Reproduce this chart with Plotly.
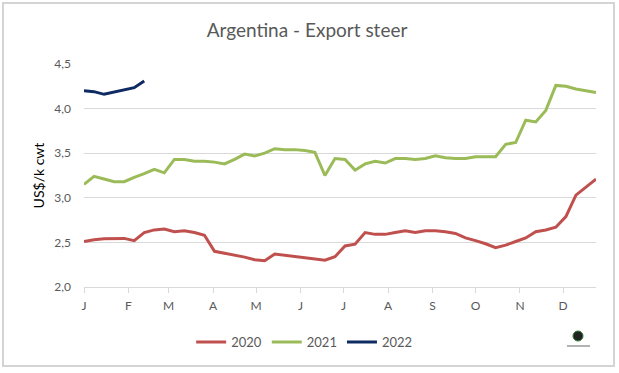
import pandas as pd
import plotly.graph_objects as go

# ---- data (weekly prices, US$/k cwt) ----
WEEKS = pd.date_range("2021-01-01", periods=52, freq="7D")

Y2020 = [2.51, 2.53, 2.54, 2.545, 2.545, 2.52, 2.61, 2.64, 2.65, 2.62, 2.63, 2.61, 2.58,
         2.40, 2.38, 2.36, 2.335, 2.305, 2.295, 2.37, 2.355, 2.34, 2.33, 2.31, 2.30, 2.34,
         2.46, 2.48, 2.61, 2.59, 2.59, 2.61, 2.63, 2.61, 2.63, 2.63, 2.62, 2.60, 2.55,
         2.52, 2.485, 2.44, 2.47, 2.51, 2.55, 2.62, 2.64, 2.67, 2.79, 3.03, 3.12, 3.21]

Y2021 = [3.15, 3.24, 3.21, 3.18, 3.18, 3.23, 3.27, 3.32, 3.28, 3.43, 3.43, 3.41, 3.41,
         3.40, 3.38, 3.43, 3.49, 3.47, 3.50, 3.55, 3.54, 3.54, 3.53, 3.51, 3.25, 3.44,
         3.43, 3.31, 3.38, 3.41, 3.39, 3.44, 3.44, 3.43, 3.44, 3.47, 3.45, 3.44, 3.44,
         3.46, 3.46, 3.46, 3.60, 3.62, 3.87, 3.85, 3.98, 4.26, 4.25, 4.22, 4.20, 4.18]

Y2022 = [4.20, 4.19, 4.16, 4.185, 4.215, 4.235, 4.31]

MONTH_STARTS = pd.date_range("2021-01-01", periods=12, freq="MS")
MONTH_LABELS = ["J", "F", "M", "A", "M", "J", "J", "A", "S", "O", "N", "D"]
Y_TICKS = [2.0, 2.5, 3.0, 3.5, 4.0, 4.5]

FONT = "Lato"
GREY_TXT = "#595959"

fig = go.Figure()
fig.add_trace(go.Scatter(x=WEEKS, y=Y2020, mode="lines", name="2020",
                         line=dict(color="#c0504d", width=3)))
fig.add_trace(go.Scatter(x=WEEKS, y=Y2021, mode="lines", name="2021",
                         line=dict(color="#9bbb59", width=3)))
fig.add_trace(go.Scatter(x=WEEKS[:len(Y2022)], y=Y2022, mode="lines", name="2022",
                         line=dict(color="#0e2a62", width=3)))

fig.update_layout(
    width=619, height=373,
    margin=dict(l=84, r=23, t=64, b=86),
    paper_bgcolor="white", plot_bgcolor="white",
    separators=",.",
    font=dict(family=FONT, color=GREY_TXT, size=12),
    title=dict(text="Argentina - Export steer", x=0.496, xanchor="center",
               y=1 - 30 / 373, yanchor="middle",
               font=dict(family=FONT, size=19, color=GREY_TXT)),
    showlegend=True,
    legend=dict(orientation="h", x=0.43, xanchor="center", y=-0.247, yanchor="middle",
                font=dict(family=FONT, size=13, color=GREY_TXT),
                bgcolor="rgba(0,0,0,0)"),
    xaxis=dict(type="date", range=[WEEKS[0], WEEKS[-1]],
               tickvals=MONTH_STARTS, ticktext=MONTH_LABELS,
               showgrid=False, zeroline=False,
               showline=True, linecolor="#d9d9d9", linewidth=1,
               ticks="outside", ticklen=5, tickcolor="#d9d9d9",
               ticklabelstandoff=3,
               tickfont=dict(family=FONT, size=12, color=GREY_TXT)),
    yaxis=dict(range=[2.0, 4.5], tickvals=Y_TICKS, tickformat=".1f",
               showgrid=True, gridcolor="#d9d9d9", gridwidth=1,
               zeroline=False, showline=False, ticks="",
               ticklabelstandoff=12,
               tickfont=dict(family=FONT, size=12, color=GREY_TXT),
               title=dict(text="US$/k cwt", standoff=6,
                          font=dict(family=FONT, size=14, color="#000000"))),
)

# chart frame
fig.add_shape(type="rect", xref="paper", yref="paper",
              x0=(3 - 84) / 512, x1=(614 - 84) / 512,
              y0=(287 - 366) / 223, y1=(287 - 3) / 223,
              line=dict(color="#d4d4d4", width=2), fillcolor="rgba(0,0,0,0)", layer="below")

# small logo approximation
fig.add_shape(type="circle", xref="paper", yref="paper",
              x0=(573 - 84) / 512, x1=(583 - 84) / 512,
              y0=(287 - 341) / 223, y1=(287 - 331) / 223,
              line=dict(color="#2e7d32", width=1), fillcolor="#222222")
fig.add_shape(type="line", xref="paper", yref="paper",
              x0=(567 - 84) / 512, x1=(590 - 84) / 512,
              y0=(287 - 346) / 223, y1=(287 - 346) / 223,
              line=dict(color="#666666", width=1))

fig.write_html("out.html", config={"displayModeBar": False},
               post_script="document.body.style.margin='0';"
                           "document.body.style.overflow='hidden';")
